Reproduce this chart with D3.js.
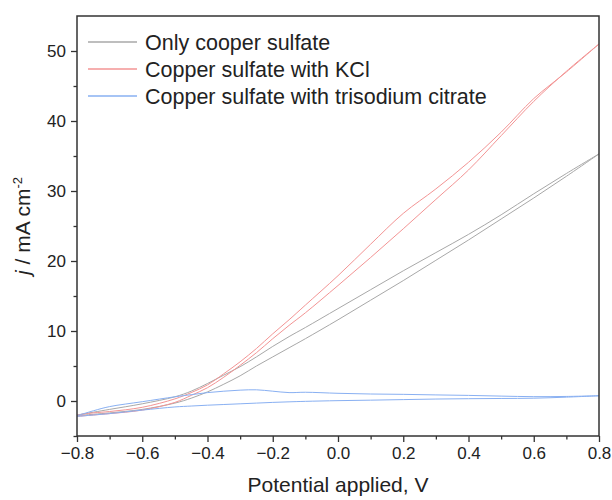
<!DOCTYPE html>
<html>
<head>
<meta charset="utf-8">
<script src="https://cdn.jsdelivr.net/npm/d3@7"></script>
<style>
  body { margin: 0; background: #fff; }
  text { font-family: "Liberation Sans", Arial, sans-serif; fill: #222; }
</style>
</head>
<body>
<div id="myChart"></div>
<script>
// potential grid (V)
let potential = [-0.8, -0.75, -0.7, -0.6, -0.5, -0.45, -0.4, -0.35, -0.3, -0.25, -0.2,
                 -0.15, -0.1, 0, 0.1, 0.2, 0.3, 0.4, 0.5, 0.6, 0.7, 0.8];

// current density (mA cm-2), two sweeps per solution
let onlyUpper = [-2.0, -1.6, -1.2, -0.4, 0.6, 1.4, 2.5, 3.7, 4.9, 6.3, 7.8,
                 9.2, 10.5, 13.2, 15.9, 18.6, 21.2, 23.8, 26.6, 29.6, 32.5, 35.3];
let onlyLower = [-2.1, -1.9, -1.7, -1.2, -0.3, 0.4, 1.3, 2.4, 3.6, 5.0, 6.3,
                 7.6, 8.9, 11.6, 14.4, 17.2, 20.1, 23.0, 26.0, 29.0, 32.1, 35.3];
let kclUpper = [-2.0, -1.7, -1.5, -0.9, 0.3, 1.2, 2.3, 3.9, 5.6, 7.5, 9.6,
                11.6, 13.7, 17.9, 22.4, 26.8, 30.3, 34.1, 38.4, 43.2, 47.0, 51.0];
let kclLower = [-2.2, -2.0, -1.8, -1.3, -0.2, 0.8, 1.9, 3.4, 5.1, 6.9, 8.9,
                10.8, 12.6, 16.5, 20.5, 24.6, 28.8, 33.0, 37.9, 42.8, 47.1, 51.0];
let citUpper = [-2.1, -1.4, -0.8, -0.1, 0.6, 0.9, 1.2, 1.4, 1.55, 1.6, 1.4,
                1.2, 1.25, 1.1, 1.0, 0.95, 0.87, 0.8, 0.7, 0.62, 0.65, 0.75];
let citLower = [-2.2, -2.0, -1.8, -1.3, -0.85, -0.72, -0.6, -0.5, -0.4, -0.3, -0.2,
                -0.12, -0.05, 0.05, 0.12, 0.2, 0.28, 0.33, 0.36, 0.4, 0.55, 0.75];

let seriesNames = ["Only cooper sulfate", "Copper sulfate with KCl", "Copper sulfate with trisodium citrate"];
let seriesColors = ["#a8a8a8", "#f39494", "#89b0f2"];

let xTicks = [-0.8, -0.6, -0.4, -0.2, 0.0, 0.2, 0.4, 0.6, 0.8];
let yTicks = [0, 10, 20, 30, 40, 50];

// set the dimensions and margins of the graph
let margin = {top: 16, right: 13, bottom: 64, left: 77},
    width = 612 - margin.left - margin.right,
    height = 500 - margin.top - margin.bottom;

let svg = d3.select("#myChart")
    .append("svg")
        .attr("width", 612)
        .attr("height", 500)
    .append("g")
        .attr("transform", "translate(" + margin.left + "," + margin.top + ")");

let x = d3.scaleLinear().domain([-0.8, 0.8]).range([0, width]);
let y = d3.scaleLinear().domain([-5, 55]).range([height, 0]);

svg.append("clipPath").attr("id", "clip")
    .append("rect").attr("width", width).attr("height", height);

// curves: forward sweep then back sweep
let line = d3.line()
    .x(d => x(d[0]))
    .y(d => y(d[1]))
    .curve(d3.curveCatmullRom);

let loops = [[onlyLower, onlyUpper], [kclLower, kclUpper], [citLower, citUpper]];
loops.forEach(function (pair, i) {
    let pts = potential.map((p, k) => [p, pair[0][k]])
        .concat(potential.map((p, k) => [p, pair[1][k]]).reverse());
    svg.append("path")
        .attr("clip-path", "url(#clip)")
        .attr("d", line(pts))
        .attr("fill", "none")
        .attr("stroke", seriesColors[i])
        .attr("stroke-width", 1);
});

// axes
let fmt = d => d3.format(".1f")(d).replace("-", "\u2212");
svg.append("g")
    .attr("transform", "translate(0," + height + ")")
    .call(d3.axisBottom(x).tickValues(xTicks).tickFormat(fmt).tickSize(6).tickPadding(5));
svg.append("g")
    .attr("transform", "translate(0," + height + ")")
    .call(d3.axisBottom(x).tickValues(d3.range(-7, 8, 2).map(d => d / 10)).tickFormat("").tickSize(3.5));

svg.append("g")
    .call(d3.axisLeft(y).tickValues(yTicks).tickSize(6).tickPadding(5));
svg.append("g")
    .call(d3.axisLeft(y).tickValues([-5, 5, 15, 25, 35, 45]).tickFormat("").tickSize(3.5));

svg.selectAll(".domain").remove();
svg.selectAll(".tick line").attr("stroke", "#333").attr("stroke-width", 1.3);
svg.selectAll(".tick text").style("font-size", "17px").attr("fill", "#222");

// frame
svg.append("rect")
    .attr("width", width).attr("height", height)
    .attr("fill", "none").attr("stroke", "#333").attr("stroke-width", 1.5);

// axis titles
svg.append("text")
    .attr("x", width / 2).attr("y", height + 56)
    .attr("text-anchor", "middle")
    .style("font-size", "21px")
    .text("Potential applied, V");

let yl = svg.append("text")
    .attr("transform", "translate(-47," + (height / 2) + ") rotate(-90)")
    .attr("text-anchor", "middle")
    .style("font-size", "21px");
yl.append("tspan").style("font-style", "italic").text("j");
yl.append("tspan").text(" / mA cm");
yl.append("tspan").attr("dy", -8).style("font-size", "13px").text("-2");

// legend
let legend = svg.append("g").attr("transform", "translate(11,26)");
seriesNames.forEach(function (name, i) {
    let g = legend.append("g").attr("transform", "translate(0," + i * 27 + ")");
    g.append("line").attr("x1", 0).attr("x2", 49)
        .attr("stroke", seriesColors[i]).attr("stroke-width", 1.5);
    g.append("text").attr("x", 57).attr("y", 7.5)
        .style("font-size", "21.5px")
        .text(name);
});
</script>
</body>
</html>
